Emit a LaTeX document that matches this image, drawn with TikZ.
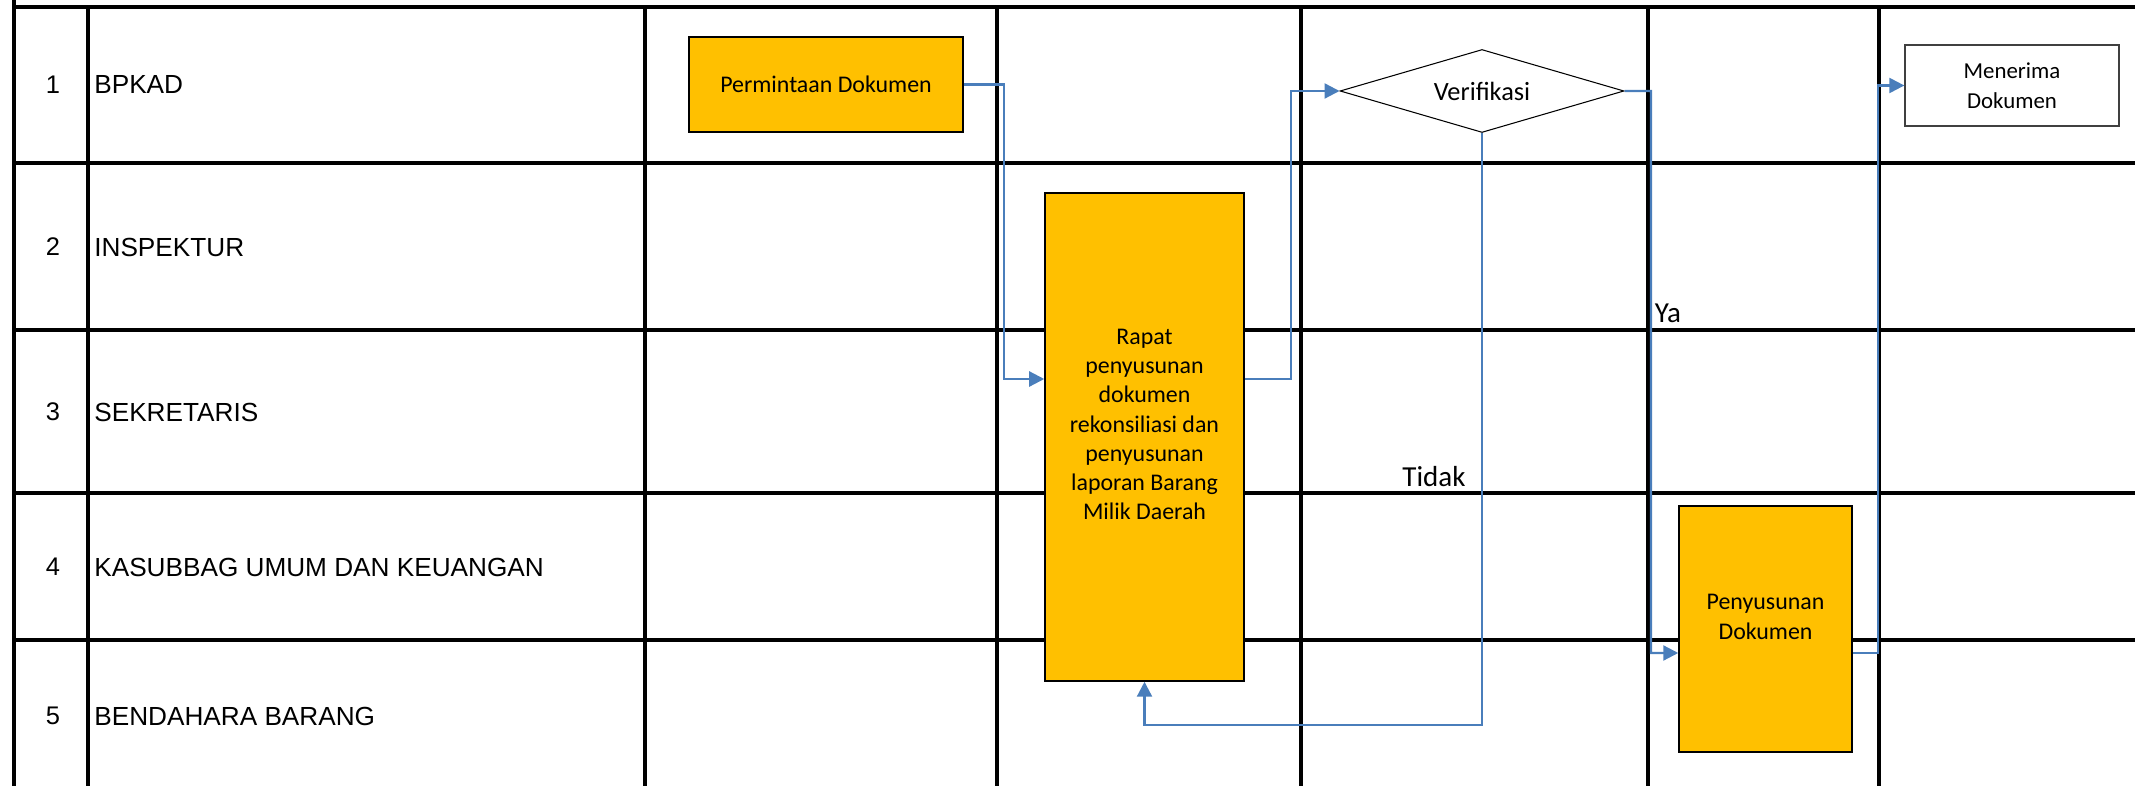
\documentclass[tikz,border=0pt]{standalone}
\usepackage{fontspec}
\setmainfont{Liberation Sans}
\newfontfamily\calibri{Carlito}
\definecolor{alurblue}{RGB}{74, 126, 187}
\definecolor{gold1}{RGB}{255, 192, 0}
\usetikzlibrary{shapes.geometric, arrows.meta, calc}
\tikzset{
  gridline/.style={line width=1.8pt, black},
  prosesbox/.style={draw=black, line width=0.9pt, fill=gold1, align=center, inner sep=2pt,
    font=\calibri\fontsize{13.6}{16.6}\selectfont},
  prosesteks/.style={align=center, inner sep=0pt, font=\calibri\fontsize{13.6}{16.6}\selectfont},
  terimabox/.style={draw=black!75, line width=0.8pt, fill=white, align=center, inner sep=2pt,
    font=\calibri\fontsize{13}{17}\selectfont},
  keputusan/.style={diamond, draw=black, line width=0.6pt, fill=white, shape aspect=3.4, inner sep=1pt,
    font=\calibri\fontsize{15}{17}\selectfont},
  flow/.style={draw=alurblue, line width=1.3pt, -{Triangle[length=0.3cm, width=0.3cm]}},
  lanenum/.style={inner sep=0pt, font=\fontsize{14.5}{17}\selectfont},
  lanelabel/.style={anchor=west, inner sep=0pt, font=\fontsize{14.9}{17}\selectfont},
  jawab/.style={inner sep=0pt, font=\calibri\fontsize{16.5}{20}\selectfont}
}

\begin{document}
\begin{tikzpicture}[x=0.02cm, y=-0.02cm]
  \useasboundingbox (0,0) rectangle (2135,786);

  % table grid
  \draw[gridline] (14,0) -- (14,786);
  \foreach \gx in {88, 645, 997, 1301, 1648, 1879}
    \draw[gridline] (\gx,7) -- (\gx,786);
  \foreach \gy in {7, 163, 330, 493, 640}
    \draw[gridline] (14,\gy) -- (2135,\gy);

  % lanes
  \foreach \n/\yy/\txt in {1/85/BPKAD, 2/247/INSPEKTUR, 3/412/SEKRETARIS,
      4/567/KASUBBAG UMUM DAN KEUANGAN, 5/716/BENDAHARA BARANG} {
    \node[lanenum] (num\n) at (53,\yy) {\n};
    \node[lanelabel] (lane\n) at (94,\yy) {\txt};
  }

  % process steps
  \node[prosesbox, minimum width=5.48cm, minimum height=1.9cm] (permintaan) at (826,84.5) {Permintaan Dokumen};
  \node[prosesbox, minimum width=3.98cm, minimum height=9.76cm] (rapat) at (1144.5,437) {};
  \node[prosesteks] (rapatteks) at ([yshift=0.25cm]rapat.center) {
    Rapat\\penyusunan\\dokumen\\rekonsiliasi dan\\penyusunan\\laporan Barang\\Milik Daerah};
  \node[keputusan, minimum width=5.68cm, minimum height=1.66cm] (verifikasi) at (1482,91) {Verifikasi};
  \node[prosesbox, minimum width=3.46cm, minimum height=4.92cm] (penyusunan) at (1765.5,629) {};
  \node[prosesteks] (penyusunanteks) at ([yshift=0.24cm]penyusunan.center) {Penyusunan\\Dokumen};
  \node[terimabox, minimum width=4.28cm, minimum height=1.62cm] (menerima) at (2012,85.5) {Menerima\\Dokumen};

  % connectors
  \draw[flow] (permintaan.east) -- (1004,84.5) |- ([yshift=1.16cm]rapat.west);
  \draw[flow] ([yshift=1.16cm]rapat.east) -| (1291,91) -- (verifikasi.west);
  \draw[flow] (verifikasi.east) -| (1651,653) -- ([yshift=-0.48cm]penyusunan.west);
  \draw[flow] (verifikasi.south) -- (1482,725) -| (rapat.south);
  \draw[flow] ([yshift=-0.48cm]penyusunan.east) -| (1878,85.5) -- (menerima.west);

  % answers
  \node[jawab] (ya) at (1668,313) {Ya};
  \node[jawab] (tidak) at (1434,477) {Tidak};
\end{tikzpicture}
\end{document}
